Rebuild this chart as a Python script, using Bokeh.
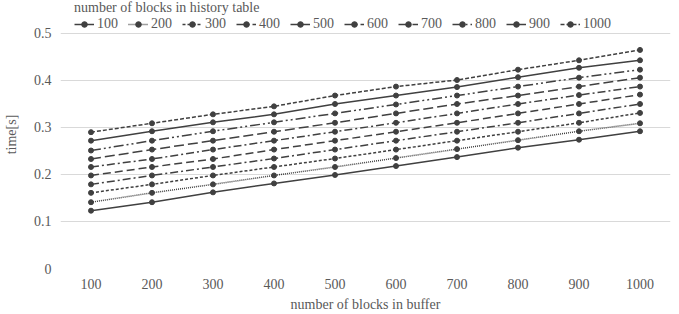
from bokeh.plotting import figure
from bokeh.models import FactorRange, Legend, FixedTicker, Range1d
from bokeh.embed import file_html
from bokeh.resources import INLINE

buffer_blocks = ["100", "200", "300", "400", "500", "600", "700", "800", "900", "1000"]
history_sizes = ["100", "200", "300", "400", "500", "600", "700", "800", "900", "1000"]

t_100 = [0.123, 0.141, 0.162, 0.181, 0.199, 0.218, 0.237, 0.257, 0.274, 0.292]
t_200 = [0.141, 0.161, 0.179, 0.198, 0.216, 0.235, 0.254, 0.273, 0.292, 0.309]
t_300 = [0.161, 0.179, 0.198, 0.216, 0.234, 0.253, 0.272, 0.291, 0.310, 0.331]
t_400 = [0.179, 0.198, 0.216, 0.234, 0.253, 0.272, 0.291, 0.310, 0.330, 0.350]
t_500 = [0.198, 0.216, 0.233, 0.253, 0.272, 0.291, 0.310, 0.330, 0.350, 0.370]
t_600 = [0.216, 0.233, 0.253, 0.272, 0.291, 0.310, 0.330, 0.350, 0.369, 0.387]
t_700 = [0.233, 0.253, 0.272, 0.291, 0.310, 0.330, 0.350, 0.368, 0.387, 0.406]
t_800 = [0.251, 0.272, 0.292, 0.311, 0.330, 0.349, 0.368, 0.387, 0.406, 0.423]
t_900 = [0.272, 0.292, 0.311, 0.328, 0.350, 0.368, 0.386, 0.407, 0.427, 0.443]
t_1000 = [0.290, 0.309, 0.328, 0.345, 0.368, 0.387, 0.401, 0.423, 0.443, 0.465]

series = [t_100, t_200, t_300, t_400, t_500, t_600, t_700, t_800, t_900, t_1000]
dashes = ["solid", "1 1", "3 2", "8 3 2 3", "8 4", "8 3 2 3", "10 4", "10 3 2 3 2 3", "solid", "4 2"]

FONT = "Liberation Serif"
TEXT = "#595959"
LINE = "#404040"

p = figure(width=679, height=314, x_range=FactorRange(*buffer_blocks), y_range=Range1d(0, 0.5702),
           output_backend="svg", toolbar_location=None,
           min_border_left=52, min_border_right=9, min_border_bottom=46, min_border_top=0)
p.outline_line_color = None
p.xgrid.grid_line_color = None
p.ygrid.grid_line_color = "#d9d9d9"
p.ygrid.grid_line_width = 1

items = []
for name, vals, dash in zip(history_sizes, series, dashes):
    r1 = p.line(buffer_blocks, vals, line_color=LINE, line_width=1.5, line_dash=dash)
    r2 = p.scatter(buffer_blocks, vals, size=5, marker="circle", fill_color=LINE, line_color=LINE)
    items.append((name, [r1, r2]))

legend = Legend(items=items, orientation="horizontal", location=(14, 236),
                title="number of blocks in history table",
                title_text_font=FONT, title_text_font_size="14px", title_text_color=TEXT,
                title_text_font_style="normal", title_standoff=-4,
                label_text_font=FONT, label_text_font_size="14px", label_text_color=TEXT,
                glyph_width=20, glyph_height=14, label_height=14, label_standoff=3,
                spacing=10, padding=0, margin=0, border_line_color=None,
                background_fill_alpha=0)
p.add_layout(legend, "center")

p.yaxis.ticker = FixedTicker(ticks=[0, 0.1, 0.2, 0.3, 0.4, 0.5])
p.yaxis.major_label_overrides = {0: "0"}
for ax in (p.xaxis[0], p.yaxis[0]):
    ax.axis_line_color = None
    ax.major_tick_line_color = None
    ax.minor_tick_line_color = None
    ax.major_tick_out = 0
    ax.major_tick_in = 0
    ax.minor_tick_out = 0
    ax.minor_tick_in = 0
    ax.major_label_text_font = FONT
    ax.major_label_text_font_size = "14px"
    ax.major_label_text_color = TEXT
    ax.axis_label_text_font = FONT
    ax.axis_label_text_font_size = "14px"
    ax.axis_label_text_color = TEXT
    ax.axis_label_text_font_style = "normal"

p.xaxis.axis_label = "number of blocks in buffer"
p.yaxis.axis_label = "time[s]"
p.xaxis.major_label_standoff = 10
p.xaxis.axis_label_standoff = 5
p.yaxis.major_label_standoff = 9
p.yaxis.axis_label_standoff = 12

open("out.html", "w").write(file_html(p, INLINE))
